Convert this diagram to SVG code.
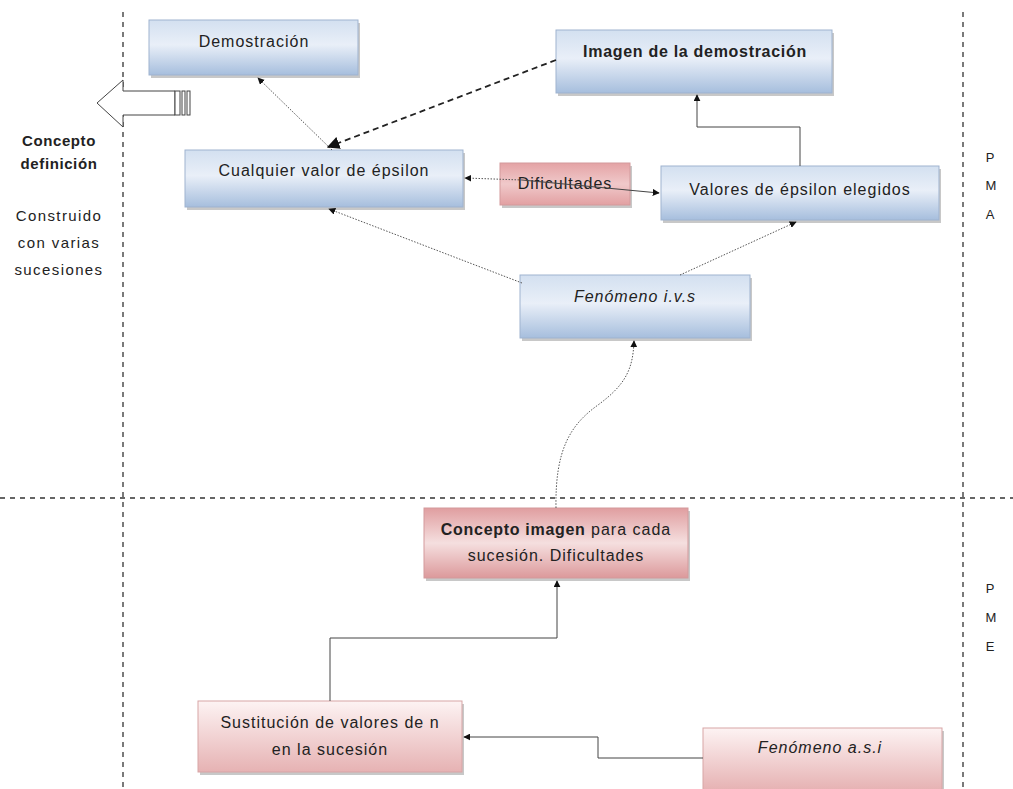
<svg xmlns="http://www.w3.org/2000/svg" width="1013" height="789" viewBox="0 0 1013 789">
<defs>
<linearGradient id="gb" x1="0" y1="0" x2="0" y2="1">
<stop offset="0" stop-color="#d3e0f0"/><stop offset="0.45" stop-color="#e9eff8"/><stop offset="1" stop-color="#a6bedd"/>
</linearGradient>
<linearGradient id="gp" x1="0" y1="0" x2="0" y2="1">
<stop offset="0" stop-color="#e09ea0"/><stop offset="0.5" stop-color="#f5dfdf"/><stop offset="1" stop-color="#dc999b"/>
</linearGradient>
<linearGradient id="gd" x1="0" y1="0" x2="0" y2="1">
<stop offset="0" stop-color="#e4a3a5"/><stop offset="0.5" stop-color="#f0c9ca"/><stop offset="1" stop-color="#e2a0a2"/>
</linearGradient>
<linearGradient id="gp2" x1="0" y1="0" x2="0" y2="1">
<stop offset="0" stop-color="#fdf3f3"/><stop offset="1" stop-color="#e6b2b3"/>
</linearGradient>
<marker id="ah" viewBox="0 0 10 10" refX="9" refY="5" markerWidth="7" markerHeight="7" orient="auto-start-reverse">
<path d="M0,0 L10,5 L0,10 z" fill="#111"/>
</marker>
<style>
.sh{fill:#9a9a9a;opacity:0.55}
.nb{fill:url(#gb);stroke:#9fb3cf;stroke-width:1}
.np{fill:url(#gp);stroke:#d39a9c;stroke-width:1}
.nd{fill:url(#gd);stroke:#d39a9c;stroke-width:1}
.np2{fill:url(#gp2);stroke:#d7a5a6;stroke-width:1}
.t{font-family:"Liberation Sans",Arial,sans-serif;font-size:16px;fill:#222;text-anchor:middle;letter-spacing:1px}
.b{font-weight:bold;letter-spacing:0.7px}
.i{font-style:italic}
.dash{stroke:#333;stroke-width:1.3;stroke-dasharray:5,5;fill:none}
.cd{stroke:#555;stroke-width:1;stroke-dasharray:1.5,1.5;fill:none}
.cs{stroke:#444;stroke-width:1;fill:none}
.cdash{stroke:#222;stroke-width:1.8;stroke-dasharray:6,4;fill:none}
.side{font-family:"Liberation Sans",Arial,sans-serif;font-size:13px;fill:#222;text-anchor:middle}
.lft{font-family:"Liberation Sans",Arial,sans-serif;font-size:15px;fill:#222;text-anchor:middle;letter-spacing:1.4px}
.lb{font-weight:bold;letter-spacing:0.6px}
</style>
</defs>
<rect width="1013" height="789" fill="#fff"/>
<g id="guides">
<line class="dash" x1="123" y1="12" x2="123" y2="789"/>
<line class="dash" x1="963" y1="12" x2="963" y2="789"/>
<line class="dash" x1="0" y1="498" x2="1013" y2="498"/>
</g>
<g id="bigarrow">
<path d="M97,103 L123,80 L123,91 L175,91 L175,115 L123,115 L123,127 Z" fill="#fff" stroke="#444" stroke-width="1"/>
<rect x="175" y="91" width="5" height="24" fill="#fff" stroke="#444" stroke-width="1"/>
<rect x="182" y="91" width="3" height="24" fill="#fff" stroke="#444" stroke-width="1"/>
<rect x="187" y="91" width="3" height="24" fill="#fff" stroke="#444" stroke-width="1"/>
</g>
<g id="left-labels">
<text class="lft lb" x="59" y="146">Concepto</text>
<text class="lft lb" x="59" y="169">definición</text>
<text class="lft" x="59" y="221">Construido</text>
<text class="lft" x="59" y="248">con varias</text>
<text class="lft" x="59" y="275">sucesiones</text>
</g>
<g id="right-labels">
<text class="side" x="990" y="162">P</text>
<text class="side" x="991" y="190">M</text>
<text class="side" x="990" y="219">A</text>
<text class="side" x="990" y="593">P</text>
<text class="side" x="991" y="622">M</text>
<text class="side" x="990" y="651">E</text>
</g>
<g id="n-demostracion">
<rect class="sh" x="151" y="23" width="209" height="55"/>
<rect class="nb" x="149" y="20" width="209" height="55"/>
<text class="t" x="254" y="47">Demostración</text>
</g>
<g id="n-imagen">
<rect class="sh" x="558" y="33" width="276" height="63"/>
<rect class="nb" x="556" y="30" width="276" height="63"/>
<text class="t b" x="695" y="57">Imagen de la demostración</text>
</g>
<g id="n-cualquier">
<rect class="sh" x="187" y="153" width="278" height="57"/>
<rect class="nb" x="185" y="150" width="278" height="57"/>
<text class="t" x="324" y="176">Cualquier valor de épsilon</text>
</g>
<g id="n-dificultades">
<rect class="sh" x="502" y="166" width="130" height="42"/>
<rect class="nd" x="500" y="163" width="130" height="42"/>
<text class="t" x="565" y="189">Dificultades</text>
</g>
<g id="n-valores">
<rect class="sh" x="663" y="169" width="278" height="54"/>
<rect class="nb" x="661" y="166" width="278" height="54"/>
<text class="t" x="800" y="195">Valores de épsilon elegidos</text>
</g>
<g id="n-fenomeno-ivs">
<rect class="sh" x="522" y="278" width="230" height="63"/>
<rect class="nb" x="520" y="275" width="230" height="63"/>
<text class="t i" x="635" y="302">Fenómeno i.v.s</text>
</g>
<g id="n-concepto-imagen">
<rect class="sh" x="426" y="511" width="264" height="70"/>
<rect class="np" x="424" y="508" width="264" height="70"/>
<text class="t" x="556" y="535"><tspan font-weight="bold" letter-spacing="0.7">Concepto imagen</tspan> para cada</text>
<text class="t" x="556" y="561">sucesión. Dificultades</text>
</g>
<g id="n-sustitucion">
<rect class="sh" x="200" y="704" width="264" height="71"/>
<rect class="np2" x="198" y="701" width="264" height="71"/>
<text class="t" x="330" y="728">Sustitución de valores de n</text>
<text class="t" x="330" y="755">en la sucesión</text>
</g>
<g id="n-fenomeno-asi">
<rect class="sh" x="705" y="731" width="239" height="62"/>
<rect class="np2" x="703" y="728" width="239" height="62"/>
<text class="t i" x="820" y="753">Fenómeno a.s.i</text>
</g>
<g id="connectors">
<line class="cd" x1="332" y1="150" x2="258" y2="78" marker-end="url(#ah)"/>
<line class="cdash" x1="556" y1="60" x2="328" y2="147" marker-end="url(#ah)"/>
<path class="cs" d="M800,166 V127 H697 V95" marker-end="url(#ah)"/>
<line class="cd" x1="522" y1="180" x2="465" y2="178" marker-end="url(#ah)"/>
<line class="cs" x1="522" y1="180" x2="659" y2="193" marker-end="url(#ah)"/>
<line class="cd" x1="522" y1="283" x2="329" y2="209" marker-end="url(#ah)"/>
<line class="cd" x1="680" y1="275" x2="796" y2="222" marker-end="url(#ah)"/>
<path class="cd" d="M556,508 C555,450 570,425 598,405 C625,385 633,370 634,341" marker-end="url(#ah)"/>
<path class="cs" d="M330,701 V638 H557 V581" marker-end="url(#ah)"/>
<path class="cs" d="M703,758 H598 V737 H464" marker-end="url(#ah)"/>
</g>
</svg>
